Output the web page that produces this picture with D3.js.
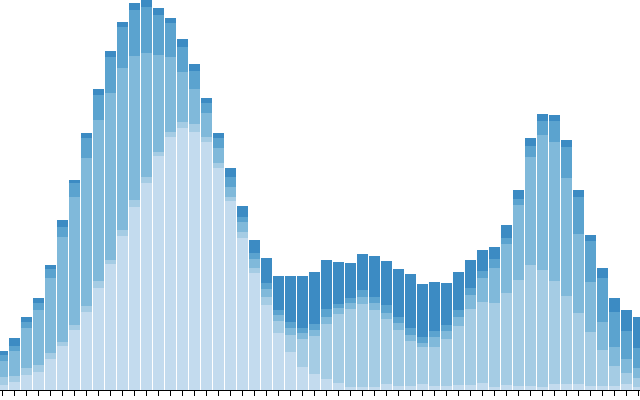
<!DOCTYPE html>
<html>
<head>
<meta charset="utf-8">
<script src="https://cdn.jsdelivr.net/npm/d3@7"></script>
<style>
  html, body { margin: 0; padding: 0; background: #fff; overflow: hidden; }
  svg { display: block; }
</style>
</head>
<body>
<script>
// Sample index (categories along x)
const categories = d3.range(54);

// Five stacked layers, bottom to top
const layer0 = [5,8,15,18,31,44,60,78,102,126,154,183,207,234,253,262,258,248,222,189,152,117,85,57,38,23,16,11,7,3,3,3,6,4,4,6,4,4,5,5,7,3,5,4,4,3,6,6,6,4,4,4,6,3];
const layer1 = [8,6,7,7,6,4,5,6,7,4,6,7,6,4,5,6,8,5,5,4,6,5,8,12,17,28,38,55,69,78,83,77,65,56,45,37,39,47,59,76,81,84,92,106,121,117,103,88,71,54,36,20,11,9];
const layer2 = [16,25,40,55,75,105,128,148,161,167,162,144,124,97,75,50,35,24,15,10,10,9,8,6,7,6,6,7,6,6,7,7,6,7,6,4,10,8,9,14,24,35,49,75,108,135,139,118,79,50,28,19,14,10];
const layer3 = [6,5,6,7,9,10,14,20,25,36,41,46,46,40,34,25,18,10,10,10,5,6,6,5,6,5,6,8,4,5,7,6,8,6,7,6,6,6,7,7,7,9,6,6,11,14,21,31,37,41,44,35,28,20];
const layer4 = [4,8,5,5,4,7,3,5,6,6,5,7,7,7,5,8,7,5,5,9,11,13,25,34,46,52,52,49,42,35,36,41,44,48,54,53,49,42,38,28,21,12,13,9,8,7,6,7,7,6,10,14,21,31];

const layers = [layer0, layer1, layer2, layer3, layer4];
const n = layers.length;

const width = 640, height = 400;
const margin = {top: 0, right: 0, bottom: 10, left: 0};

const rows = categories.map((c, i) => {
  const r = {cat: c};
  layers.forEach((l, j) => r["s" + j] = l[i]);
  return r;
});
const keys = layers.map((l, j) => "s" + j);
const stacked = d3.stack().keys(keys)(rows);

const yMax = d3.max(stacked[n - 1], d => d[1]);

const x = d3.scaleBand()
  .domain(categories)
  .rangeRound([-4, 645])
  .padding(0.08);

const y = d3.scaleLinear()
  .domain([0, yMax])
  .range([height - margin.bottom, margin.top]);

const z = d3.scaleSequential(d3.interpolateBlues)
  .domain([-0.5 * n, 1.5 * n]);

const svg = d3.select("body").append("svg")
  .attr("width", width)
  .attr("height", height)
  .attr("viewBox", [0, 0, width, height]);

svg.append("g")
  .selectAll("g")
  .data(stacked)
  .join("g")
    .attr("fill", (d, i) => z(i))
  .selectAll("rect")
  .data(d => d)
  .join("rect")
    .attr("x", (d, i) => x(categories[i]))
    .attr("y", d => y(d[1]))
    .attr("width", x.bandwidth())
    .attr("height", d => y(d[0]) - y(d[1]));

svg.append("g")
  .attr("transform", `translate(0,${height - margin.bottom})`)
  .call(d3.axisBottom(x).tickSizeOuter(0).tickFormat(() => ""));
</script>
</body>
</html>
